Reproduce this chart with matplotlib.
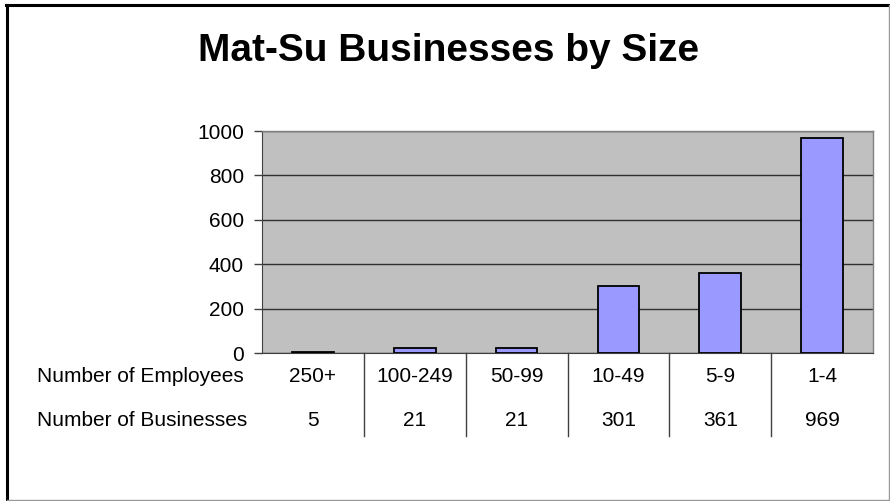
import matplotlib
matplotlib.use("Agg")
import matplotlib.pyplot as plt
from matplotlib.lines import Line2D
from matplotlib.transforms import blended_transform_factory

plt.rcParams["font.family"] = ["Liberation Sans", "DejaVu Sans"]

sizes = ["250+", "100-249", "50-99", "10-49", "5-9", "1-4"]
businesses = [5, 21, 21, 301, 361, 969]
row_labels = ["Number of Employees", "Number of Businesses"]

FS = 15

fig = plt.figure(figsize=(8.9, 5.01), dpi=100)
ax = fig.add_axes([0.2944, 0.2954, 0.6865, 0.4431])
ax.set_facecolor("#C0C0C0")

x = list(range(len(sizes)))
ax.bar(x, businesses, width=0.41, color="#9999FF", edgecolor="black", lw=1.3, zorder=3)

ax.set_xlim(-0.5, len(sizes) - 0.5)
ax.set_ylim(0, 1000)
ax.set_yticks(range(0, 1001, 200))
ax.yaxis.grid(True, color="#303030", lw=1.0, zorder=1)
ax.set_axisbelow(True)
ax.set_xticks([])
ax.tick_params(axis="y", direction="out", length=5.5, width=1, color="#404040",
               labelsize=FS, pad=7.5)
for s in ("top", "right"):
    ax.spines[s].set_color("#808080")
    ax.spines[s].set_linewidth(1)
ax.spines["left"].set_color("#404040")
ax.spines["bottom"].set_color("#404040")

# data table under the plot area
tr = blended_transform_factory(ax.transData, ax.transAxes)
row_y = [-0.108, -0.306]
for i, lab in enumerate(sizes):
    ax.text(i, row_y[0], lab, transform=tr, ha="center", va="center", fontsize=FS)
    ax.text(i, row_y[1], str(businesses[i]), transform=tr, ha="center", va="center",
            fontsize=FS)
for i in range(len(sizes) - 1):
    ax.add_line(Line2D([i + 0.5, i + 0.5], [0, -0.374], transform=tr, color="#404040",
                       lw=1, clip_on=False))
for yy, lab in zip(row_y, row_labels):
    ax.text(0.0415, yy, lab, transform=blended_transform_factory(fig.transFigure, ax.transAxes),
            ha="left", va="center", fontsize=FS)

fig.text(0.504, 1 - 61 / 501, "Mat-Su Businesses by Size", ha="center", va="baseline",
         fontsize=28, fontweight="bold")

# chart border
W, H = 890, 501
fig.add_artist(Line2D([7 / W, 7 / W], [0, 1 - 5 / H], transform=fig.transFigure,
                      color="black", lw=2.2))
fig.add_artist(Line2D([6 / W, 1], [1 - 5 / H, 1 - 5 / H], transform=fig.transFigure,
                      color="black", lw=2.2))
fig.add_artist(Line2D([1 - 1.5 / W, 1 - 1.5 / W], [0, 1 - 5 / H], transform=fig.transFigure,
                      color="#999999", lw=1))
fig.add_artist(Line2D([7 / W, 1], [1.5 / H, 1.5 / H], transform=fig.transFigure,
                      color="#999999", lw=1))

fig.savefig("out.png", dpi=100)
